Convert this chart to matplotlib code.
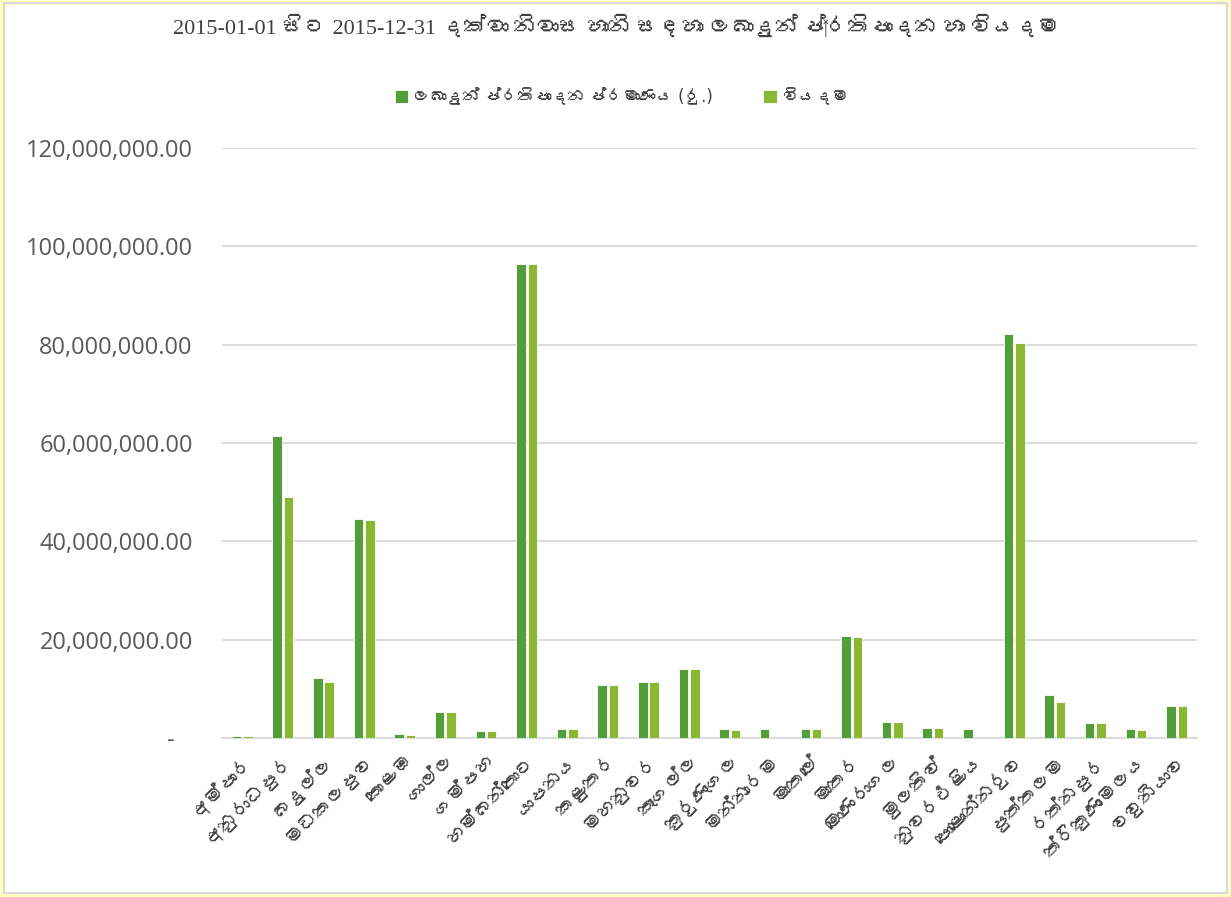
import matplotlib
matplotlib.use("Agg")
import matplotlib.pyplot as plt
from matplotlib import font_manager
from matplotlib.ft2font import FT2Font
from matplotlib.patches import Rectangle
from matplotlib.ticker import FuncFormatter
import numpy as np

# ---------------- data ----------------
districts = ["අම්පාර", "අනුරාධපුර", "බදුල්ල", "මඩකලපුව", "කොළඹ", "ගාල්ල",
             "ගම්පහ", "හම්බන්තොට", "යාපනය", "කළුතර", "මහනුවර", "කෑගල්ල",
             "කුරුණෑගල", "මන්නාරම", "මාතලේ", "මාතර", "මොණරාගල", "මුලතිව්",
             "නුවරඑළිය", "පොළොන්නරුව", "පුත්තලම", "රත්නපුර", "ත්‍රිකුණාමලය", "වවුනියාව"]
provision = [300000, 61360000, 12100000, 44540000, 750000, 5300000,
             1450000, 96400000, 1900000, 10700000, 11400000, 14000000,
             1780000, 1780000, 1780000, 20650000, 3250000, 2000000,
             1780000, 82200000, 8700000, 3000000, 1780000, 6450000]
expense = [300000, 48950000, 11300000, 44340000, 650000, 5300000,
           1450000, 96400000, 1900000, 10700000, 11400000, 13950000,
           1700000, 0, 1780000, 20600000, 3250000, 2000000,
           0, 80350000, 7300000, 3000000, 1700000, 6400000]
series_names = ["ලබාදුන් ප්‍රතිපාදන ප්‍රමාණය (රු.)", "වියදම"]
title = "2015-01-01 සිට 2015-12-31 දක්වා නිවාස හානි සඳහා ලබාදුන් ප්‍රතිපාදන හා වියදම"
yticks = [0, 20000000, 40000000, 60000000, 80000000, 100000000, 120000000]

# ---------------- fonts ----------------
def find_sinhala_font():
    seen = set()
    for f in font_manager.fontManager.ttflist:
        if f.fname in seen:
            continue
        seen.add(f.fname)
        try:
            cm = FT2Font(f.fname).get_charmap()
        except Exception:
            continue
        if 0x0DC3 in cm and 0x0DBB in cm:
            return f.name
    return None

sin = find_sinhala_font()
def fam(base):
    lst = [base]
    if sin:
        lst.append(sin)
    lst.append("DejaVu Sans")
    return lst

# ---------------- figure ----------------
fig = plt.figure(figsize=(12.31, 8.97), dpi=100)
fig.patch.set_facecolor("white")
ax = fig.add_axes([0.1803, 0.1773, 0.7920, 0.6577])

dark = "#549E39"
light = "#8AB833"
x = np.arange(len(districts))
w = 0.235
ax.bar(x - 0.14, provision, width=w, color=dark, edgecolor="white", linewidth=0.6,
       label=series_names[0], zorder=3)
ax.bar(x + 0.14, expense, width=w, color=light, edgecolor="white", linewidth=0.6,
       label=series_names[1], zorder=3)

ax.set_xlim(-0.5, len(districts) - 0.5)
ax.set_ylim(0, 120000000)
ax.set_yticks(yticks)
ax.yaxis.set_major_formatter(FuncFormatter(lambda v, p: "-   " if v == 0 else f"{v:,.2f}"))
ax.grid(axis="y", color="#D9D9D9", linewidth=1.3, zorder=0)
for s in ["top", "right", "left"]:
    ax.spines[s].set_visible(False)
ax.spines["bottom"].set_color("#D9D9D9")
ax.spines["bottom"].set_linewidth(1.3)
ax.tick_params(axis="both", length=0)
ax.tick_params(axis="y", pad=21)
for t in ax.get_yticklabels():
    t.set_fontfamily(["Open Sans", "DejaVu Sans"])
    t.set_fontsize(17)
    t.set_color("#595959")

ax.set_xticks(x)
ax.set_xticklabels(districts, rotation=45, ha="right", va="top",
                   rotation_mode="anchor", fontsize=14, color="#404040",
                   family=fam("DejaVu Sans"))
ax.tick_params(axis="x", pad=10)

fig.text(0.501, 0.970, title, ha="center", va="center", fontsize=16,
         color="#404040", family=fam("Liberation Serif"))

leg = ax.legend(loc="center", bbox_to_anchor=(0.41, 1.086), ncol=2, frameon=False,
                handlelength=0.8, handleheight=0.8, handletextpad=0.3,
                columnspacing=3.0, prop={"family": fam("DejaVu Sans"), "size": 12})
for t in leg.get_texts():
    t.set_color("#404040")

# border frame
fig.patches.append(Rectangle((0.0012, 0.0017), 0.9976, 0.9966, transform=fig.transFigure,
                             fill=False, edgecolor="#FFFFC0", linewidth=3.5, zorder=10))
fig.patches.append(Rectangle((0.0030, 0.0040), 0.9940, 0.9925, transform=fig.transFigure,
                             fill=False, edgecolor="#D9D9D9", linewidth=1.5, zorder=11))

fig.savefig("out.png", dpi=100, facecolor="white")
